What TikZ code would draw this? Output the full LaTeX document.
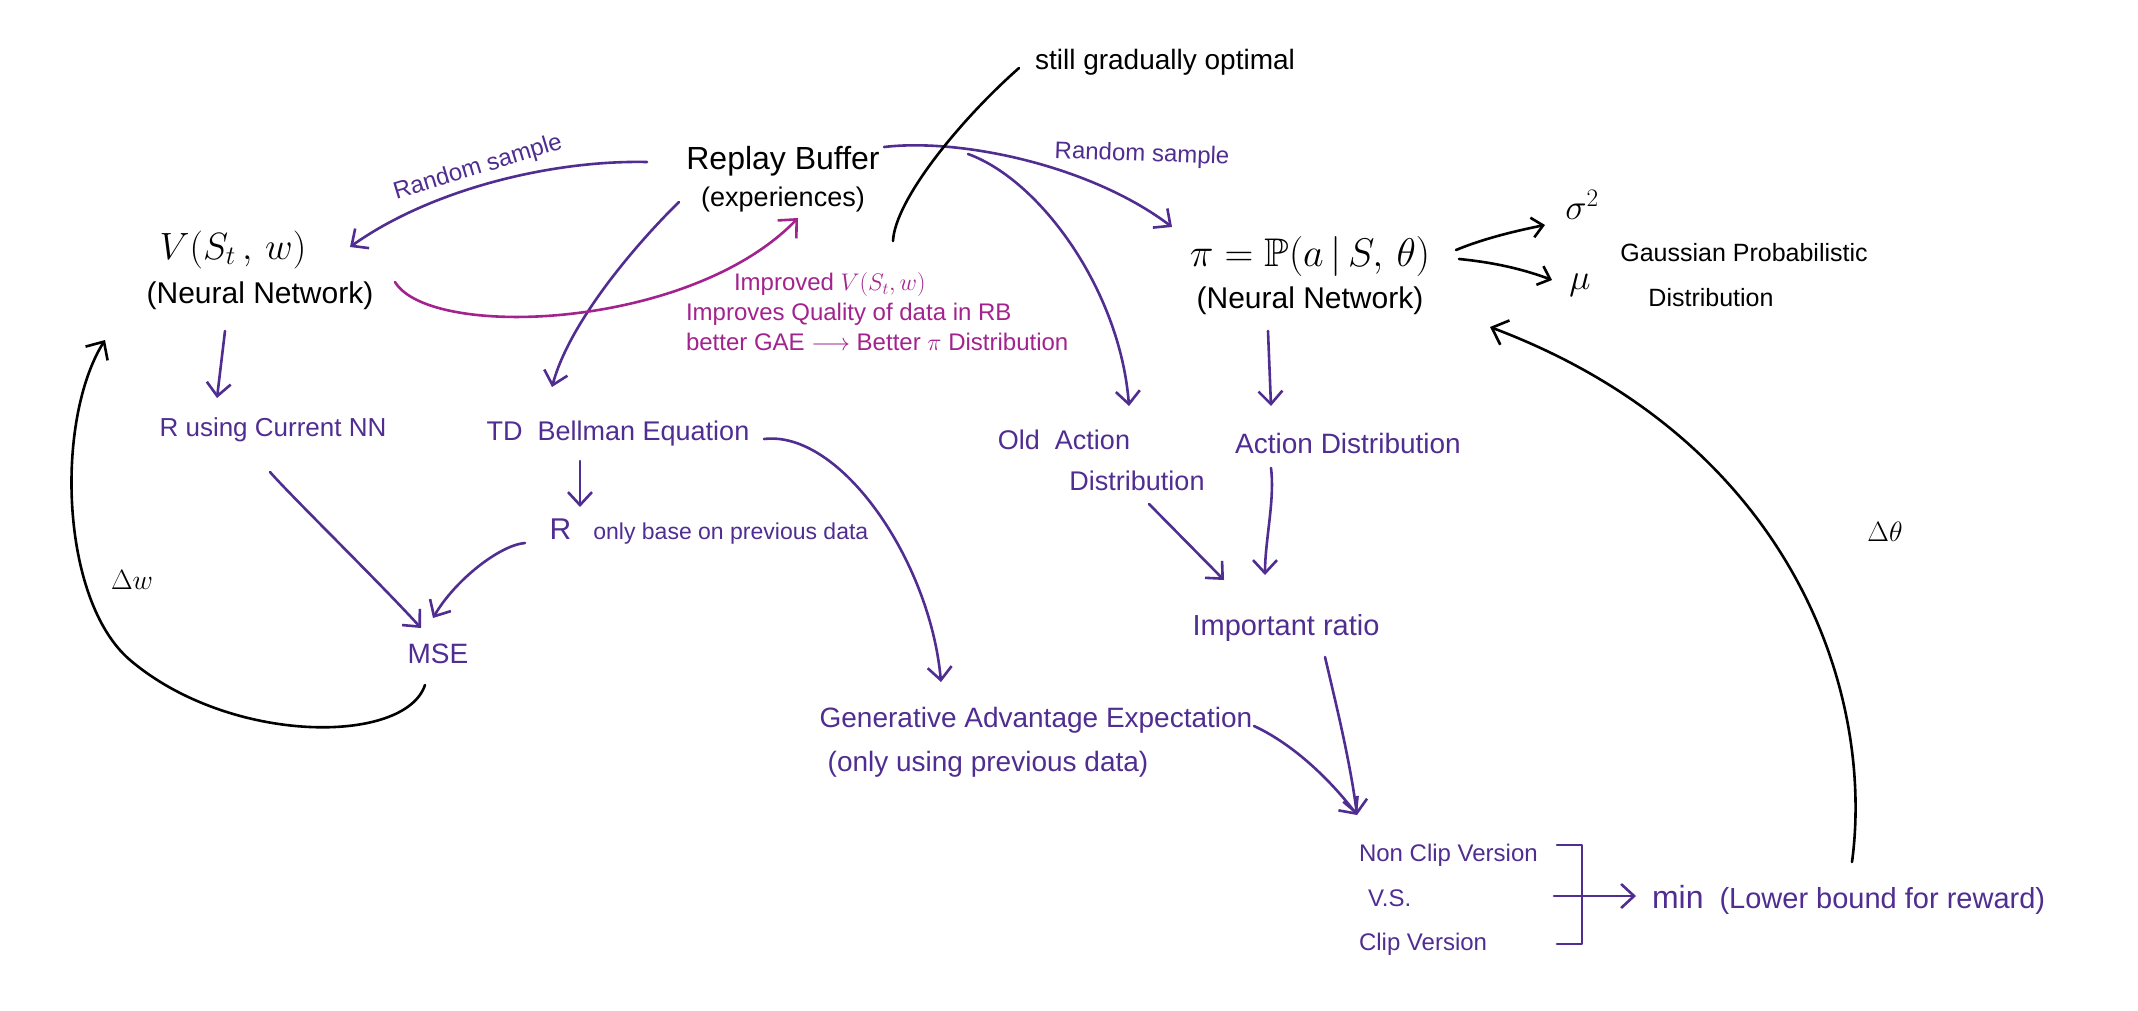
\RequirePackage{fix-cm}
\documentclass[tikz,border=0pt]{standalone}
\usepackage{amsmath,amssymb}
\usepackage{fontspec}
\setmainfont{Liberation Sans}
\usetikzlibrary{arrows.meta}
\definecolor{pur}{RGB}{80,45,145}
\definecolor{mag}{RGB}{163,35,142}
\newcommand\setfs[2]{\fontsize{#1}{#2}\selectfont}
\tikzset{
  lbl/.style={inner sep=0pt, outer sep=0pt},
  pl/.style={lbl, text=pur},
  bl/.style={lbl, text=black},
  ml/.style={lbl, text=mag},
  conn/.style={line width=2.6pt, line cap=round, line join=round},
  pa/.style={conn, draw=pur, -{Straight Barb[length=13pt,width=24pt]}},
  ba/.style={conn, draw=black, -{Straight Barb[length=14pt,width=26pt]}},
  bas/.style={conn, draw=black, -{Straight Barb[length=11pt,width=20pt]}},
  ma/.style={conn, draw=mag, -{Straight Barb[length=14pt,width=26pt]}},
}
\begin{document}
\begin{tikzpicture}[x=1pt, y=-1pt]
\fill[white] (0,0) rectangle (2138,1010);
\useasboundingbox (0,0) rectangle (2138,1010);

% ---- nodes ----
\node[bl, font=\setfs{28}{28}] (still) at (1165,62) {still gradually optimal};
\node[bl, align=center, font=\setfs{32}{37}] (rb) at (783,179) {Replay Buffer\\{\setfs{27}{37}(experiences)}};
\node[bl, align=center, font=\setfs{30}{44}] (v) at (260,270) {{\setfs{38}{44}$V(S_t\,,\,w)$}\hspace*{54pt}\\(Neural Network)};
\node[bl, align=center, font=\setfs{30}{42}] (pi) at (1310,276) {{\setfs{40}{42}$\pi = \mathbb{P}(a \,|\, S,\, \theta)$}\\(Neural Network)};
\node[bl, font=\setfs{36}{36}] (sig) at (1582,205) {$\sigma^2$};
\node[bl, font=\setfs{36}{36}] (mu) at (1580,285) {$\mu$};
\node[bl, align=center, font=\setfs{25}{45}] (gauss) at (1744,275) {Gaussian Probabilistic\\Distribution\hspace*{66pt}};
\node[pl, font=\setfs{24}{24}, rotate=17] (rs1) at (478,168) {Random sample};
\node[pl, font=\setfs{24}{24}, rotate=-2] (rs2) at (1142,155) {Random sample};
\node[ml, align=left, font=\setfs{24}{30}, anchor=west] (mag) at (686,312) {\hspace*{48pt}Improved $V(S_t, w)$\\Improves Quality of data in RB\\better GAE $\longrightarrow$ Better $\pi$ Distribution};
\node[pl, font=\setfs{26}{26}] (rcur) at (273,430) {R using Current NN};
\node[pl, font=\setfs{27}{27}] (td) at (618,434) {TD\ \ Bellman Equation};
\node[pl] (ronly) at (709,532) {{\setfs{30}{30}R}\hspace{22pt}{\setfs{23}{23}only base on previous data}};
\node[pl, font=\setfs{28}{28}] (mse) at (438,654) {MSE};
\node[pl, align=center, font=\setfs{28}{44}] (gae) at (1036,742) {Generative Advantage Expectation\\(only using previous data)\hspace*{96pt}};
\node[pl, align=center, font=\setfs{27}{41}] (old) at (1100,460) {Old\ \ Action\hspace*{72pt}\\\hspace*{74pt}Distribution};
\node[pl, font=\setfs{28}{28}] (adist) at (1348,443) {Action Distribution};
\node[pl, font=\setfs{29}{29}] (imp) at (1286,628) {Important ratio};
\node[pl, align=left, font=\setfs{24}{44.5}, anchor=west] (vs) at (1359,900) {Non Clip Version\\\hspace*{9pt}V.S.\\Clip Version};
\node[pl, anchor=west] (min) at (1652,900) {{\setfs{32}{32}min}\hspace{16pt}{\setfs{29}{29}(Lower bound for reward)}};
\node[bl, font=\setfs{28}{28}] (dw) at (132,580) {$\Delta w$};
\node[bl, font=\setfs{28}{28}] (dth) at (1885,532) {$\Delta\theta$};
\coordinate (brk) at (1582,896);

% ---- connectors ----
\draw[pa] ([shift={(-136,-17)}]rb.center) .. controls (550,160) and (430,190) .. ([shift={(90,-23)}]v.center);
\draw[pa] ([shift={(101,-32)}]rb.center) .. controls (960,138) and (1090,165) .. ([shift={(-138,-49)}]pi.center);
\draw[pa] ([shift={(-104,23)}]rb.center) .. controls (640,240) and (570,320) .. ([shift={(-66,-47)}]td.center);
\draw[pa] ([shift={(185,-25)}]rb.center) .. controls (1040,180) and (1120,290) .. ([shift={(29,-54)}]old.center);
\draw[ma] ([shift={(135,12)}]v.center) .. controls (430,340) and (690,330) .. ([shift={(15,39)}]rb.center);
\draw[pa] ([shift={(-35,61)}]v.center) -- ([shift={(-56,-32)}]rcur.center);
\draw[pa] ([shift={(-38,27)}]td.center) -- ([shift={(-129,-25)}]ronly.center);
\draw[pa] ([shift={(-184,11)}]ronly.center) .. controls (500,545) and (455,580) .. ([shift={(-5,-36)}]mse.center);
\draw[pa] ([shift={(-3,42)}]rcur.center) .. controls (290,495) and (380,583) .. ([shift={(-17,-26)}]mse.center);
\draw[ba] ([shift={(-13,31)}]mse.center) .. controls (405,745) and (230,745) .. (130,660) .. controls (60,600) and (55,420) .. ([shift={(-155,70)}]v.center);
\draw[pa] ([shift={(-42,55)}]pi.center) -- ([shift={(-77,-37)}]adist.center);
\draw[bas] ([shift={(146,-26)}]pi.center) .. controls (1480,240) and (1510,232) .. ([shift={(-37,20)}]sig.center);
\draw[bas] ([shift={(149,-17)}]pi.center) .. controls (1490,262) and (1520,268) .. ([shift={(-28,-5)}]mu.center);
\draw[pa] ([shift={(146,5)}]td.center) .. controls (840,430) and (930,560) .. ([shift={(-95,-60)}]gae.center);
\draw[pa] ([shift={(49,44)}]old.center) -- ([shift={(-62,-48)}]imp.center);
\draw[pa] ([shift={(-77,25)}]adist.center) .. controls (1275,500) and (1265,540) .. ([shift={(-21,-53)}]imp.center);
\draw[pa] ([shift={(218,-16)}]gae.center) .. controls (1295,745) and (1332,782) .. ([shift={(-2,-85)}]vs.west);
\draw[pa] ([shift={(39,29)}]imp.center) .. controls (1335,700) and (1350,760) .. ([shift={(-2,-85)}]vs.west);
\draw[conn, draw=pur] ([shift={(-25,-51)}]brk) -- ([shift={(0,-51)}]brk) -- ([shift={(0,48)}]brk) -- ([shift={(-25,48)}]brk);
\draw[pa] ([shift={(-28,0)}]brk) -- ([shift={(-16,-4)}]min.west);
\draw[ba] ([shift={(200,-38)}]min.west) .. controls (1875,690) and (1790,440) .. ([shift={(180,51)}]pi.center);
\draw[conn] ([shift={(-146,6)}]still.center) .. controls (960,120) and (895,200) .. ([shift={(207,-71)}]mag.west);
\end{tikzpicture}
\end{document}
